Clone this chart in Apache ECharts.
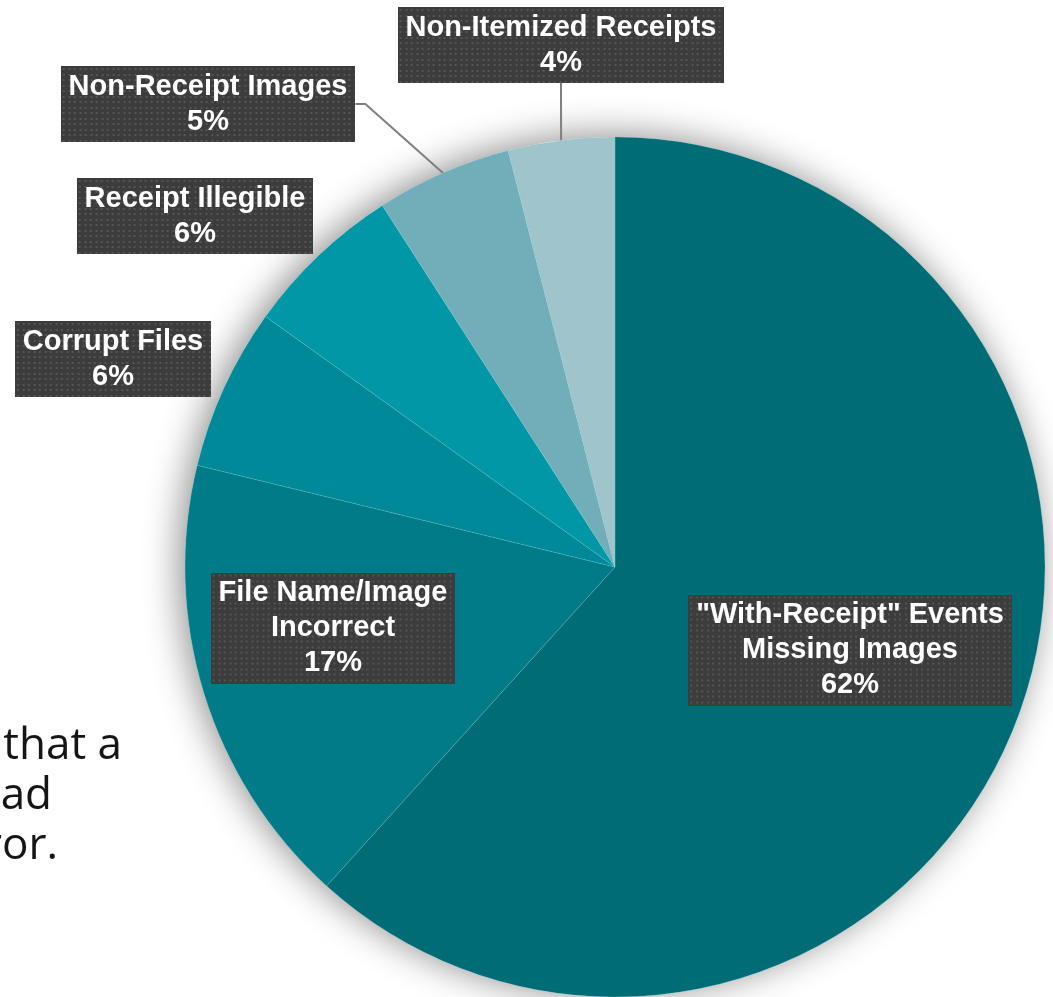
<!DOCTYPE html>
<html>
<head>
<meta charset="utf-8">
<script src="https://cdn.jsdelivr.net/npm/echarts@6/dist/echarts.min.js"></script>
<style>
html,body{margin:0;padding:0;background:#fff;}
#chart{width:1053px;height:997px;}
</style>
</head>
<body>
<div id="chart"></div>
<script>
// ---- data ----
const categories = [
  '"With-Receipt" Events\nMissing Images',
  'File Name/Image\nIncorrect',
  'Corrupt Files',
  'Receipt Illegible',
  'Non-Receipt Images',
  'Non-Itemized Receipts'
];
const values = [61.7, 17.1, 6.1, 6.0, 5.1, 4.0];
const colors = ['#006C76', '#007B87', '#008999', '#0098A6', '#72AEB9', '#A0C4CC'];
const bgTextLines = ['that a', 'ad', 'ror.'];

// ---- label layout (label centres, in px) ----
const labelCentres = [[850, 650], [333, 628], [113, 359], [195, 216], [208, 104], [561, 45]];
const outsideLabel = [false, false, false, false, true, true];

const LABEL_FONT = 'bold 29px "Liberation Sans", Arial, sans-serif';
const LINE_H = 35;
const PAD = [3, 8];

function labelText(name, v) { return name + '\n' + Math.round(v) + '%'; }

// dotted label background sized to the label box
const measureCtx = document.createElement('canvas').getContext('2d');
measureCtx.font = LABEL_FONT;
function makeDots(text) {
  const lines = text.split('\n');
  const tw = Math.max.apply(null, lines.map(l => measureCtx.measureText(l).width));
  const w = Math.ceil(tw + PAD[1] * 2);
  const h = Math.ceil(lines.length * LINE_H + PAD[0] * 2);
  const c = document.createElement('canvas');
  c.width = w; c.height = h;
  const g = c.getContext('2d');
  g.fillStyle = '#3c3c3c';
  g.fillRect(0, 0, w, h);
  g.fillStyle = '#555555';
  for (let y = 2; y < h - 1; y += 5.5) {
    for (let x = 2; x < w - 1; x += 5.5) {
      g.fillRect(Math.round(x), Math.round(y), 2, 2);
    }
  }
  return c;
}

const chart = echarts.init(document.getElementById('chart'), null, {renderer: 'canvas'});

const data = categories.map((name, i) => ({
  name: name,
  value: values[i],
  itemStyle: {color: colors[i]},
  label: {
    position: outsideLabel[i] ? 'outside' : 'inside',
    backgroundColor: {image: makeDots(labelText(name, values[i]))}
  },
  labelLine: {show: outsideLabel[i]}
}));

const option = {
  backgroundColor: '#ffffff',
  animation: false,
  graphic: bgTextLines.map((t, i) => ({
    type: 'text',
    right: [931, 1001, 995][i],
    top: [724, 774, 824][i],
    z: -10,
    style: {
      text: t,
      fill: '#151515',
      font: '400 44px "Open Sans"',
      textAlign: 'right'
    }
  })),
  series: [
    {
      type: 'pie',
      silent: true,
      center: [615, 567],
      radius: 430,
      z: 1,
      label: {show: false},
      labelLine: {show: false},
      data: [{value: 1, itemStyle: {color: '#ffffff', shadowBlur: 36, shadowColor: 'rgba(0,0,0,0.45)', shadowOffsetX: -5, shadowOffsetY: -2}}]
    },
    {
      type: 'pie',
      center: [615, 567],
      radius: 430,
      startAngle: 90,
      clockwise: true,
      z: 2,
      itemStyle: {borderColor: 'rgba(140,200,210,0.35)', borderWidth: 0.6},
      label: {
        show: true,
        overflow: 'none',
        formatter: p => labelText(p.name, p.value),
        color: '#ffffff',
        fontFamily: '"Liberation Sans", Arial, sans-serif',
        fontWeight: 'bold',
        fontSize: 29,
        lineHeight: LINE_H,
        align: 'center',
        padding: [PAD[0], PAD[1], PAD[0], PAD[1]],
        shadowColor: 'rgba(0,0,0,0.6)',
        shadowBlur: 5,
        shadowOffsetX: 3,
        shadowOffsetY: 3
      },
      labelLine: {
        show: true,
        length: 20,
        length2: 10,
        lineStyle: {color: '#7f7f7f', width: 2}
      },
      labelLayout: function (params) {
        const c = labelCentres[params.dataIndex];
        return {x: c[0], y: c[1], align: 'center', verticalAlign: 'middle'};
      },
      data: data
    }
  ]
};
chart.setOption(option);
</script>
</body>
</html>
